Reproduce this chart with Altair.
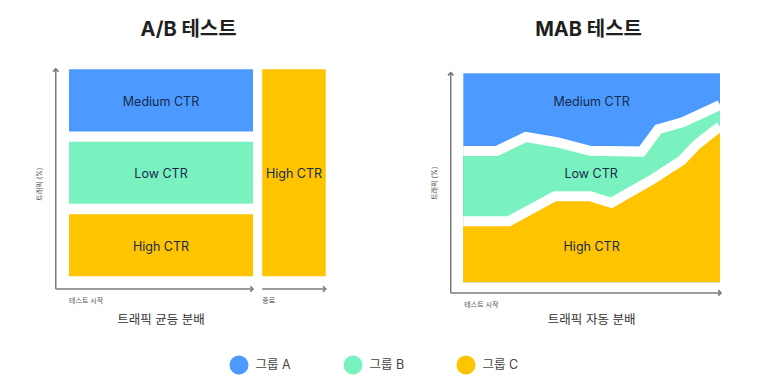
import altair as alt
import pandas as pd

FONT = "Inter, 'Noto Sans CJK KR', sans-serif"

# ---- shared categories ----
groups = ["그룹 A", "그룹 B", "그룹 C"]
colors = ["#4C9AFF", "#79F2C0", "#FFC400"]
ctr_labels = ["Medium CTR", "Low CTR", "High CTR"]

# ---- A/B test (equal traffic split, then winner) ----
ab_low = [70, 35, 0]          # traffic % lower edge per group during test
ab_high = [100, 65, 30]       # traffic % upper edge per group during test
ab_test_span = [0, 100]       # test period (time)
ab_end_span = [105, 139.5]    # after test end (time)
ab_end_group = "그룹 C"
ab_end_label = "High CTR"

# ---- MAB test (automatic traffic allocation) ----
mab_span = [0, 100]
# boundary between group A (top) and group B
ab_edge_x = [0, 13, 24.4, 36.4, 49.4, 69.5, 75.9, 85.7, 100]
ab_edge_y = [62.8, 62.8, 69.5, 67.0, 62.9, 62.5, 73.2, 76.6, 84.8]
# boundary between group B and group C (bottom)
bc_edge_x = [0, 17.8, 35.7, 49.4, 57.7, 73.4, 85.0, 90.9, 100]
bc_edge_y = [29.2, 29.2, 41.2, 41.2, 38.0, 49.0, 58.2, 65.8, 74.6]
mab_label_x = [50, 49.8, 50]
mab_label_y = [86.4, 51.7, 17]

# ---- texts ----
titles = ["A/B 테스트", "MAB 테스트"]
x_titles = ["트래픽 균등 분배", "트래픽 자동 분배"]
y_title = "트래픽 (%)"
start_label = "테스트 시작"
end_label = "종료"

AXIS_COLOR = "#7a7a7a"
cscale = alt.Scale(domain=groups, range=colors)
legend = alt.Legend(
    orient="none", legendX=221.5, legendY=347.5, direction="horizontal",
    title=None, symbolType="circle", symbolSize=361, symbolStrokeWidth=0,
    symbolOpacity=1, labelFont=FONT, labelFontSize=12.5, labelColor="#444444",
    labelOffset=7, columnPadding=52, padding=0,
)
RIGHT = "M-1,-1L0,0L-1,1"
UP = "M-1,1L0,0L1,1"


def enc_xy(sx, sy, xf="x", yf="y"):
    return dict(
        x=alt.X(f"{xf}:Q", scale=sx, axis=None),
        y=alt.Y(f"{yf}:Q", scale=sy, axis=None),
    )


def axes_layers(sx, sy, segs, arrows):
    seg_df = pd.DataFrame(segs, columns=["x", "y", "x2", "y2"])
    rules = alt.Chart(seg_df).mark_rule(color=AXIS_COLOR, strokeWidth=1.5).encode(
        **enc_xy(sx, sy), x2="x2:Q", y2="y2:Q")
    layers = [rules]
    for shape, pts in arrows.items():
        adf = pd.DataFrame(pts, columns=["x", "y"])
        layers.append(alt.Chart(adf).mark_point(
            shape=shape, size=30, filled=False, color=AXIS_COLOR,
            strokeWidth=1.6, opacity=1).encode(**enc_xy(sx, sy)))
    return layers


def text_layer(sx, sy, df, **kw):
    return alt.Chart(df).mark_text(font=FONT, **kw).encode(
        **enc_xy(sx, sy), text="t:N")


# ================= left panel =================
W1, H = 372, 370
sxL = alt.Scale(domain=[-33.15, 169.0], nice=False, zero=False)
syL = alt.Scale(domain=[-49.1, 129.6], nice=False, zero=False)

rect_rows = [
    dict(group=g, x0=ab_test_span[0], x1=ab_test_span[1], y0=lo, y1=hi)
    for g, lo, hi in zip(groups, ab_low, ab_high)
]
rect_rows.append(dict(group=ab_end_group, x0=ab_end_span[0], x1=ab_end_span[1], y0=0, y1=100))
rects = alt.Chart(pd.DataFrame(rect_rows)).mark_rect().encode(
    x=alt.X("x0:Q", scale=sxL, axis=None), x2="x1:Q",
    y=alt.Y("y0:Q", scale=syL, axis=None), y2="y1:Q",
    color=alt.Color("group:N", scale=cscale, legend=legend),
)
ab_lab = pd.DataFrame(dict(
    x=[sum(ab_test_span) / 2] * 3 + [sum(ab_end_span) / 2],
    y=[(a + b) / 2 - 0.6 for a, b in zip(ab_low, ab_high)] + [49.4],
    t=ctr_labels + [ab_end_label],
))
left_layers = [rects, text_layer(sxL, syL, ab_lab, fontSize=12.5, color="#172B4D")]
left_layers += axes_layers(
    sxL, syL,
    [(-7.2, -6.1, -7.2, 100.2), (-7.2, -6.1, 100, -6.1), (105, -6.1, 139.5, -6.1)],
    {RIGHT: [(100, -6.1), (139.5, -6.1)], UP: [(-7.2, 100.2)]},
)
left_layers += [
    text_layer(sxL, syL, pd.DataFrame(dict(x=[0, 105], y=[-11.8, -11.8], t=[start_label, end_label])),
               fontSize=7, color="#555555", align="left"),
    text_layer(sxL, syL, pd.DataFrame(dict(x=[50], y=[-21.1], t=[x_titles[0]])),
               fontSize=12.5, color="#333333"),
    text_layer(sxL, syL, pd.DataFrame(dict(x=[-15.8], y=[44.6], t=[y_title])),
               fontSize=7, color="#555555", angle=270),
    text_layer(sxL, syL, pd.DataFrame(dict(x=[65], y=[119], t=[titles[0]])),
               fontSize=20, fontWeight="bold", color="#1f1f1f"),
]
left = alt.layer(*left_layers).properties(width=W1, height=H)

# ================= right panel =================
W2 = 376
sxR = alt.Scale(domain=[-30.9, 115.6], nice=False, zero=False)
syR = alt.Scale(domain=[-45.8, 131.2], nice=False, zero=False)


def area(df):
    return alt.Chart(df).mark_area(opacity=1).encode(
        x=alt.X("x:Q", scale=sxR, axis=None),
        y=alt.Y("y:Q", scale=syR, axis=None), y2="y0:Q",
        color=alt.Color("group:N", scale=cscale, legend=legend),
    )


a_df = pd.DataFrame(dict(x=mab_span, y=[100, 100], y0=[0, 0], group=groups[0]))
b_df = pd.DataFrame(dict(x=ab_edge_x, y=ab_edge_y, y0=0, group=groups[1]))
c_df = pd.DataFrame(dict(x=bc_edge_x, y=bc_edge_y, y0=0, group=groups[2]))
edges = pd.DataFrame(dict(
    x=ab_edge_x + bc_edge_x, y=ab_edge_y + bc_edge_y,
    e=["ab"] * len(ab_edge_x) + ["bc"] * len(bc_edge_x),
    i=list(range(len(ab_edge_x))) + list(range(len(bc_edge_x))),
))
gaps = alt.Chart(edges).mark_line(color="white", strokeWidth=10, strokeCap="butt").encode(
    **enc_xy(sxR, syR), detail="e:N", order="i:Q")
mab_lab = pd.DataFrame(dict(x=mab_label_x, y=mab_label_y, t=ctr_labels))

right_layers = [area(a_df), area(b_df), area(c_df), gaps,
                text_layer(sxR, syR, mab_lab, fontSize=12.5, color="#172B4D")]
right_layers += axes_layers(
    sxR, syR,
    [(-4.9, -5.1, -4.9, 100.3), (-4.9, -5.1, 100.4, -5.1)],
    {RIGHT: [(100.4, -5.1)], UP: [(-4.9, 100.3)]},
)
right_layers += [
    text_layer(sxR, syR, pd.DataFrame(dict(x=[0.4], y=[-10.9], t=[start_label])),
               fontSize=7, color="#555555", align="left"),
    text_layer(sxR, syR, pd.DataFrame(dict(x=[50], y=[-18.2], t=[x_titles[1]])),
               fontSize=12.5, color="#333333"),
    text_layer(sxR, syR, pd.DataFrame(dict(x=[-11], y=[47.4], t=[y_title])),
               fontSize=7, color="#555555", angle=270),
    text_layer(sxR, syR, pd.DataFrame(dict(x=[48.8], y=[120.7], t=[titles[1]])),
               fontSize=20, fontWeight="bold", color="#1f1f1f"),
]
right = alt.layer(*right_layers).properties(width=W2, height=H)

chart = alt.hconcat(left, right, spacing=4, bounds="flush").properties(
    padding=0, background="white"
).configure_view(stroke=None)

chart.save("out.html", embed_options={"renderer": "svg", "actions": False})
